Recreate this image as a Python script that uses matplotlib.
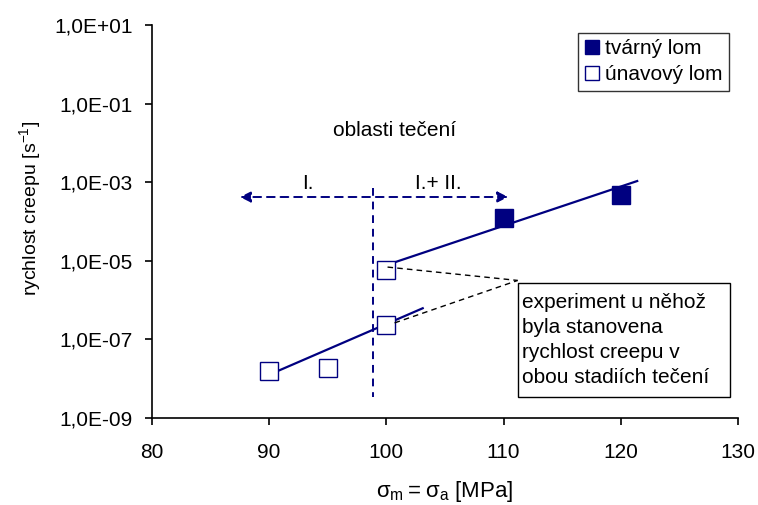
import numpy as np
import matplotlib
matplotlib.use("Agg")
import matplotlib.pyplot as plt
from matplotlib.patches import Rectangle
from matplotlib.ticker import FixedLocator, FuncFormatter, NullLocator

plt.rcParams['font.family'] = ['Liberation Sans', 'DejaVu Sans']
plt.rcParams['mathtext.fontset'] = 'custom'
plt.rcParams['mathtext.rm'] = 'Liberation Sans'

# data
ductile_stress = [110, 120]
ductile_rate = [1.2e-4, 4.7e-4]
fatigue_stress = [100, 100, 90, 95]
fatigue_rate = [5.9e-6, 2.3e-7, 1.6e-8, 1.9e-8]

# trend lines (end points as drawn in the original)
upper_trend_x = [99.6, 121.4]
upper_trend_y = [7.1e-6, 1.07e-3]
lower_trend_x = [89.6, 103.1]
lower_trend_y = [1.12e-8, 6.2e-7]

navy = '#000080'

fig = plt.figure(figsize=(7.58, 5.05), dpi=100)
ax = fig.add_axes([0.2005, 0.1723, 0.7731, 0.7782])

ax.plot(upper_trend_x, upper_trend_y, color=navy, lw=1.6)
ax.plot(lower_trend_x, lower_trend_y, color=navy, lw=1.6)

ax.plot(ductile_stress, ductile_rate, 's', color=navy, ms=12.5,
        label='tvárný lom')
ax.plot(fatigue_stress, fatigue_rate, 's', mfc='white', mec=navy, mew=1.0,
        ms=12.5, label='únavový lom')

# flow regions
ax.plot([98.9, 98.9], [7.0e-4, 3.4e-9], color=navy, lw=1.4, ls=(0, (4, 3)))
ax.annotate('', xy=(87.5, 4.2e-4), xytext=(110.4, 4.2e-4),
            arrowprops=dict(arrowstyle='<|-|>', color=navy, lw=1.4,
                            ls=(0, (4, 3)), mutation_scale=16,
                            shrinkA=0, shrinkB=0))
ax.text(93.3, 9.5e-4, 'I.', ha='center', va='center', fontsize=15)
ax.text(104.4, 9.5e-4, 'I.+ II.', ha='center', va='center', fontsize=15)
ax.text(100.7, 2.1e-2, 'oblasti tečení', ha='center', va='center', fontsize=15)

# note box with leader lines
corner_x, corner_y = 111.2, 10 ** -5.5
for px, py in [(100.1, 10 ** -5.16), (100.7, 10 ** -6.58)]:
    ax.plot([px, corner_x], [py, corner_y], color='black', lw=1,
            ls=(0, (4, 3)))
ax.add_patch(Rectangle((111.2, 10 ** -8.47), 18.1, 10 ** -5.57 - 10 ** -8.47,
                       fc='white', ec='black', lw=1, zorder=3))
ax.text(111.55, 10 ** -5.83,
        'experiment u něhož\nbyla stanovena\nrychlost creepu v\nobou stadiích tečení',
        fontsize=15, ha='left', va='top', linespacing=1.39, zorder=4)

ax.set_yscale('log')
ax.set_xlim(80, 130)
ax.set_ylim(1e-9, 10)
ax.set_xticks(range(80, 131, 10))
ax.yaxis.set_major_locator(FixedLocator([10.0 ** e for e in range(-9, 2, 2)]))
ax.yaxis.set_minor_locator(NullLocator())


def sci(v, pos):
    e = int(round(np.log10(v)))
    return '1,0E%s%02d' % ('+' if e >= 0 else '-', abs(e))


ax.yaxis.set_major_formatter(FuncFormatter(sci))
ax.tick_params(axis='both', labelsize=15, width=1.2, length=5)
ax.tick_params(axis='x', pad=13)
ax.tick_params(axis='y', pad=9)
for s in ['top', 'right']:
    ax.spines[s].set_visible(False)
for s in ['left', 'bottom']:
    ax.spines[s].set_linewidth(1.2)

ax.set_ylabel('rychlost creepu [s$^{-1}$]', fontsize=14)
ax.yaxis.set_label_coords(-0.185, 0.534)
ax.set_xlabel(r'$\mathregular{σ_m = σ_a}$ [MPa]', fontsize=16)
ax.xaxis.set_label_coords(0.5, -0.156)

leg = ax.legend(loc='upper right', bbox_to_anchor=(0.985, 0.98), fontsize=15,
                frameon=True, fancybox=False, edgecolor='black',
                handlelength=0.7, handletextpad=0.3, borderpad=0.3,
                borderaxespad=0, labelspacing=0.35, markerscale=0.75)
leg.get_frame().set_linewidth(1)

fig.savefig('out.png', dpi=100)
